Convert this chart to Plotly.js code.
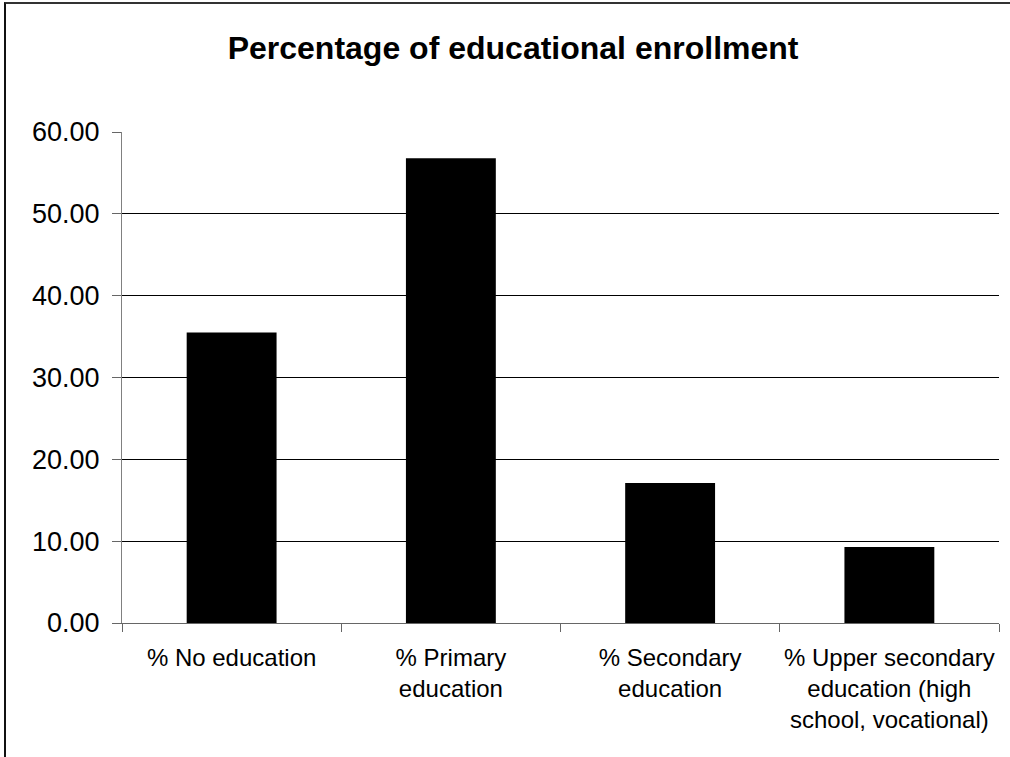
<!DOCTYPE html>
<html>
<head>
<meta charset="utf-8">
<script src="https://cdn.plot.ly/plotly-3.0.1.min.js"></script>
<style>
html,body{margin:0;padding:0;background:#fff;}
#wrap{position:relative;width:1010px;height:757px;overflow:hidden;}
#chart{position:absolute;left:0;top:0;width:1010px;height:757px;}
#frame{position:absolute;left:4px;top:2px;width:1100px;height:900px;border-top:2px solid #333;border-left:2px solid #111;pointer-events:none;}
</style>
</head>
<body>
<div id="wrap"><div id="chart"></div><div id="frame"></div></div>
<script>
var categories = [
  "% No education",
  "% Primary<br>education",
  "% Secondary<br>education",
  "% Upper secondary<br>education (high<br>school, vocational)"
];
var values = [35.5, 56.8, 17.1, 9.3];
var gridValues = [10, 20, 30, 40, 50];
var chartTitle = "Percentage of educational enrollment";

var trace = {
  type: "bar",
  x: categories,
  y: values,
  marker: {color: "#000000", line: {width: 0}},
  hoverinfo: "x+y"
};

var layout = {
  width: 1010,
  height: 757,
  paper_bgcolor: "#ffffff",
  plot_bgcolor: "#ffffff",
  margin: {l: 122, r: 11, t: 132, b: 134},
  font: {family: "Liberation Sans, Arial, sans-serif", color: "#000", size: 24},
  title: {
    text: "<b>" + chartTitle + "</b>",
    font: {family: "Liberation Sans, Arial, sans-serif", size: 32, color: "#000"},
    xref: "container", x: 0.508, xanchor: "center",
    yref: "container", y: 1 - 48/757, yanchor: "middle"
  },
  bargap: 0.59,
  showlegend: false,
  xaxis: {
    type: "category",
    showline: true,
    linecolor: "#666666",
    linewidth: 1,
    ticks: "outside",
    tickson: "boundaries",
    ticklen: 8,
    tickcolor: "#666666",
    tickangle: 0,
    showgrid: false,
    tickfont: {size: 24, color: "#000"},
    ticklabelstandoff: 13,
    fixedrange: true
  },
  yaxis: {
    range: [0, 60],
    dtick: 10,
    tick0: 0,
    tickformat: ".2f",
    showline: true,
    linecolor: "#808080",
    linewidth: 1,
    ticks: "outside",
    ticklen: 9,
    tickcolor: "#666666",
    showgrid: false,
    zeroline: false,
    tickfont: {size: 27, color: "#000"},
    ticklabelstandoff: 7,
    minor: {
      tickmode: "array",
      tickvals: gridValues,
      showgrid: true,
      gridcolor: "#000000",
      gridwidth: 1,
      ticks: ""
    },
    fixedrange: true
  }
};

Plotly.newPlot("chart", [trace], layout, {displayModeBar: false, staticPlot: true});
</script>
</body>
</html>
